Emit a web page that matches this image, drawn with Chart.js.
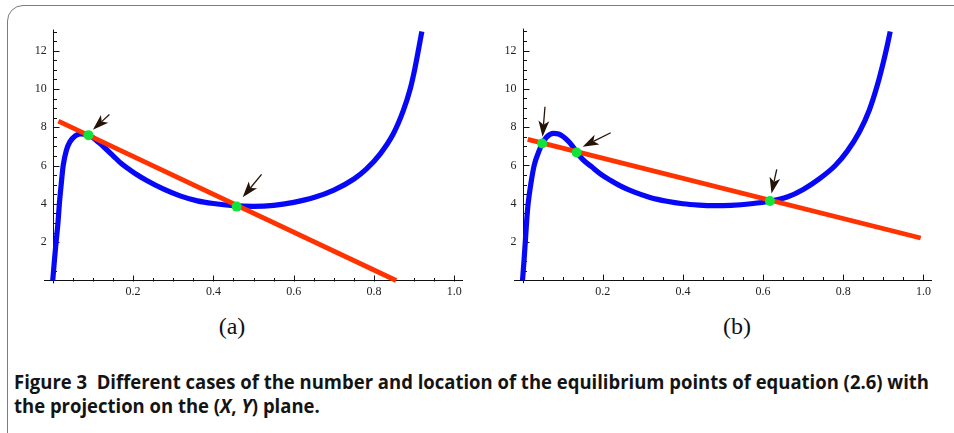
<!DOCTYPE html>
<html><head><meta charset="utf-8">
<script src="https://cdn.jsdelivr.net/npm/chart.js@4.4.0/dist/chart.umd.min.js"></script>
<style>
html,body{margin:0;padding:0;background:#fff;width:954px;height:433px;overflow:hidden;position:relative;}
#frame{position:absolute;left:7px;top:5px;width:990px;height:460px;border:1.5px solid #7c7c7c;border-radius:16px;box-sizing:border-box;}
canvas{position:absolute;top:0;}
.sub{position:absolute;top:314px;width:100px;text-align:center;font-family:'Liberation Serif',serif;font-size:24px;line-height:24px;color:#111;}
.cap{position:absolute;left:14px;font-family:'Open Sans',sans-serif;font-weight:700;font-size:19px;line-height:21px;white-space:nowrap;transform-origin:0 0;color:#141414;}
</style></head>
<body>
<div id="frame"></div>
<canvas id="ca" width="477" height="300" style="left:0px"></canvas>
<canvas id="cb" width="477" height="300" style="left:477px"></canvas>
<div class="sub" style="left:182px">(a)</div>
<div class="sub" style="left:687px">(b)</div>
<div class="cap" id="cap1" style="top:372px">Figure 3&nbsp;&nbsp;Different cases of the number and location of the equilibrium points of equation (2.6) with</div>
<div class="cap" id="cap2" style="top:396px">the projection on the (<i>X</i>, <i>Y</i>) plane.</div>
<script>
// ---- tick labels ----
const xTickValues = [0.2, 0.4, 0.6, 0.8, 1.0];
const xTickLabels = ['0.2', '0.4', '0.6', '0.8', '1.0'];
const yTickValues = [2, 4, 6, 8, 10, 12];
const yTickLabels = ['2', '4', '6', '8', '10', '12'];

// ---- panel (a) ----
const blueAX = [0, 0.004, 0.0083, 0.013, 0.0165, 0.021, 0.026, 0.034, 0.043, 0.056, 0.068, 0.08, 0.089, 0.10, 0.115, 0.13, 0.151, 0.17, 0.192, 0.21, 0.234, 0.275, 0.317, 0.36, 0.40, 0.45, 0.50, 0.55, 0.60, 0.65, 0.70, 0.75, 0.78, 0.815, 0.848, 0.873, 0.89, 0.902, 0.912, 0.919];
const blueAY = [0, 1.0, 2.0, 3.0, 4.0, 5.0, 6.0, 6.8, 7.25, 7.55, 7.66, 7.64, 7.59, 7.46, 7.2, 6.92, 6.5, 6.12, 5.78, 5.52, 5.22, 4.78, 4.42, 4.16, 4.02, 3.91, 3.87, 3.92, 4.08, 4.33, 4.72, 5.30, 5.80, 6.60, 7.66, 8.88, 10.0, 11.1, 12.2, 13.0];
const redAX = [0.014, 0.855];
const redAY = [8.32, 0];
const dotAX = [0.089, 0.458];
const dotAY = [7.59, 3.86];
const arrowATail = [[0.141, 8.67], [0.520, 5.54]];
const arrowATip = [[0.100, 7.87], [0.473, 4.35]];

// ---- panel (b) ----
const blueBX = [0, 0.004, 0.0075, 0.0105, 0.014, 0.021, 0.029, 0.042, 0.049, 0.060, 0.077, 0.09, 0.102, 0.115, 0.125, 0.135, 0.15, 0.1725, 0.195, 0.218, 0.245, 0.276, 0.318, 0.36, 0.40, 0.44, 0.476, 0.52, 0.57, 0.617, 0.66, 0.70, 0.74, 0.78, 0.81, 0.84, 0.865, 0.885, 0.90, 0.91, 0.917];
const blueBY = [0, 1.1, 2.2, 3.15, 4.0, 5.07, 6.0, 6.8, 7.12, 7.48, 7.68, 7.64, 7.5, 7.25, 7.0, 6.7, 6.32, 5.93, 5.55, 5.24, 4.92, 4.63, 4.33, 4.13, 4.0, 3.93, 3.90, 3.92, 4.0, 4.13, 4.35, 4.75, 5.3, 6.0, 6.75, 7.75, 8.9, 10.2, 11.4, 12.3, 13.0];
const redBX = [0.013, 0.993];
const redBY = [7.36, 2.21];
const dotBX = [0.049, 0.135, 0.617];
const dotBY = [7.15, 6.68, 4.14];
const arrowBTail = [[0.056, 9.07], [0.22, 7.71], [0.634, 5.80]];
const arrowBTip = [[0.050, 7.50], [0.150, 6.98], [0.621, 4.54]];

const pts = (xs, ys) => xs.map((v, i) => ({x: v, y: ys[i]}));

// Mathematica-style inward ticks and the vertical axis line through x = 0
const inTicks = {
  id: 'inTicks',
  beforeDatasetsDraw(chart) {
    const {ctx, scales: {x, y}} = chart;
    const x0 = Math.round(x.getPixelForValue(0)) + 0.5;
    const y0 = Math.round(y.getPixelForValue(0)) + 0.5;
    ctx.save();
    ctx.strokeStyle = '#111';
    ctx.lineWidth = 1;
    ctx.beginPath();
    ctx.moveTo(x0, y.getPixelForValue(y.min));
    ctx.lineTo(x0, y.getPixelForValue(y.max));
    for (let i = 1; i <= 20; i++) {
      const px = Math.round(x.getPixelForValue(i * 0.05)) + 0.5;
      const len = (i % 4 === 0) ? 6 : 3.5;
      ctx.moveTo(px, y0); ctx.lineTo(px, y0 - len);
    }
    for (let i = 1; i <= 26; i++) {
      const py = Math.round(y.getPixelForValue(i * 0.5)) + 0.5;
      const len = (i % 4 === 0) ? 6 : 3.5;
      ctx.moveTo(x0, py); ctx.lineTo(x0 + len, py);
    }
    ctx.stroke();
    ctx.restore();
  }
};

const arrowPlugin = {
  id: 'arrowsDraw',
  afterDatasetsDraw(chart, args, opts) {
    const {ctx, scales: {x, y}} = chart;
    const tails = opts.tails || [], tips = opts.tips || [];
    ctx.save();
    ctx.fillStyle = '#241408';
    ctx.strokeStyle = '#241408';
    ctx.lineWidth = 1.3;
    tails.forEach((t, i) => {
      const ax = x.getPixelForValue(t[0]), ay = y.getPixelForValue(t[1]);
      const bx = x.getPixelForValue(tips[i][0]), by = y.getPixelForValue(tips[i][1]);
      const dx = bx - ax, dy = by - ay, L = Math.hypot(dx, dy);
      const ux = dx / L, uy = dy / L, nx = -uy, ny = ux;
      const hl = 16, hw = 5.4;
      const baseX = bx - ux * hl, baseY = by - uy * hl;
      ctx.beginPath(); ctx.moveTo(ax, ay); ctx.lineTo(baseX + ux * 4, baseY + uy * 4); ctx.stroke();
      ctx.beginPath();
      ctx.moveTo(bx, by);
      ctx.lineTo(baseX + nx * hw, baseY + ny * hw);
      ctx.lineTo(baseX + ux * 4, baseY + uy * 4);
      ctx.lineTo(baseX - nx * hw, baseY - ny * hw);
      ctx.closePath(); ctx.fill();
    });
    ctx.restore();
  }
};

function makeChart(id, g, blue, red, dots, tails, tips) {
  const tickFont = {family: 'Liberation Serif', size: 12};
  return new Chart(document.getElementById(id), {
    type: 'scatter',
    data: {
      datasets: [
        {data: dots, pointRadius: 5, pointHoverRadius: 5, backgroundColor: '#12e23a', borderWidth: 0, showLine: false, clip: false},
        {data: red, showLine: true, borderColor: '#ff3300', borderWidth: 4.8, pointRadius: 0, clip: false, borderCapStyle: 'butt'},
        {data: blue, showLine: true, borderColor: '#0808f8', borderWidth: 5.2, pointRadius: 0, cubicInterpolationMode: 'monotone', clip: false, borderJoinStyle: 'round'}
      ]
    },
    options: {
      responsive: false, animation: false, devicePixelRatio: 1,
      layout: {padding: g.pad},
      plugins: {legend: {display: false}, tooltip: {enabled: false}, arrowsDraw: {tails, tips}},
      events: [],
      scales: {
        x: {
          type: 'linear', min: -0.02, max: 1.02, position: {y: 0},
          grid: {color: 'rgba(0,0,0,0)', drawTicks: false},
          border: {display: true, color: '#111', width: 1},
          afterBuildTicks: s => { s.ticks = xTickValues.map(v => ({value: v})); },
          ticks: {autoSkip: false, maxRotation: 0, padding: 4, color: '#222', font: tickFont,
                  callback: (v, i) => xTickLabels[i]}
        },
        y: {
          type: 'linear', min: -0.15, max: g.ymax, position: {x: -0.015},
          grid: {color: 'rgba(0,0,0,0)', drawTicks: false},
          border: {display: false},
          afterBuildTicks: s => { s.ticks = yTickValues.map(v => ({value: v})); },
          ticks: {autoSkip: false, padding: 0, color: '#222', font: tickFont,
                  callback: (v, i) => yTickLabels[i]}
        }
      }
    },
    plugins: [inTicks, arrowPlugin]
  });
}

makeChart('ca', {pad: {left: 44.7, right: 14.6, top: 29.6, bottom: 16.6}, ymax: 13.1},
  pts(blueAX, blueAY), pts(redAX, redAY), pts(dotAX, dotAY), arrowATail, arrowATip);
makeChart('cb', {pad: {left: 37.5, right: 22.5, top: 28.6, bottom: 16.8}, ymax: 13.15},
  pts(blueBX, blueBY), pts(redBX, redBY), pts(dotBX, dotBY), arrowBTail, arrowBTip);

// fit caption width to the reference line length
const c1 = document.getElementById('cap1'), c2 = document.getElementById('cap2');
const w = c1.getBoundingClientRect().width;
const s = 915 / w;
c1.style.transform = 'scaleX(' + s + ')';
c2.style.transform = 'scaleX(' + s + ')';
</script>
</body></html>
